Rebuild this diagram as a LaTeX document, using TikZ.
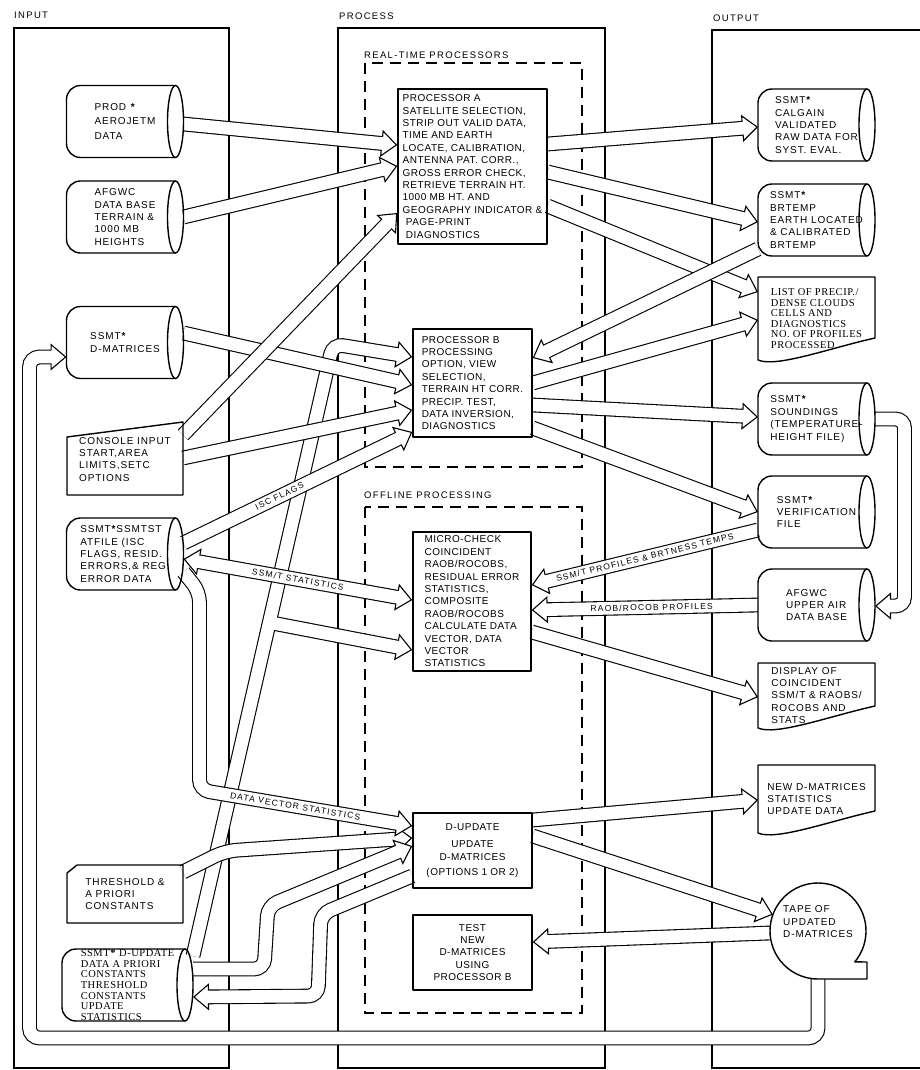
\documentclass[tikz,border=0pt]{standalone}
\usepackage{fontspec}
\setmainfont{Liberation Sans}[LetterSpace=5]
\newfontfamily\midfont{Liberation Sans}[LetterSpace=9]
\newfontfamily\widefont{Liberation Sans}[LetterSpace=14]
\newfontfamily\oldfont{Liberation Serif}[LetterSpace=5]
\usetikzlibrary{arrows.meta,calc}
\pgfdeclarelayer{frame}
\pgfdeclarelayer{flow}
\pgfsetlayers{frame,flow,main}
\newcommand{\procfont}{\fontsize{10}{12.4}\selectfont}
\newcommand{\iofont}{\midfont\fontsize{10}{12.4}\selectfont}
\newcommand{\serfont}{\oldfont\fontsize{10.5}{10.6}\selectfont}
\newcommand{\lblfont}{\widefont\fontsize{8.5}{9}\selectfont}
\newcommand{\headfont}{\widefont\fontsize{9.5}{10}\selectfont}
\newcommand{\starmk}{\textbf{*}}
\begin{document}
\begin{tikzpicture}[x=1pt,y=-1pt,line join=round,
  headtip/.tip={Triangle[length=16pt,width=27pt,fill=white,line width=1.1pt]},
  shapeline/.style={line width=1.4pt},
  frameline/.style={line width=1.5pt},
  dashline/.style={line width=1.3pt,dash pattern=on 11pt off 7pt},
  fatback/.style={draw,line cap=butt,line width=14.8pt,shorten >=15pt},
  fatfill/.style={draw=white,line cap=butt,line width=12.6pt,shorten >=13.5pt},
  fathead/.style={draw,line width=1.1pt,-headtip},
  fat/.style={fathead,preaction={fatback,arrows=-},postaction={fatfill,arrows=-}},
  fattwo/.style={draw,line width=1.1pt,headtip-headtip,
    preaction={fatback,shorten <=15pt,arrows=-},postaction={fatfill,shorten <=13.5pt,arrows=-}},
  lbl/.style={font=\lblfont,inner sep=0pt,sloped},
  head/.style={font=\headfont,inner sep=0pt,anchor=west},
  box/.style={draw,shapeline,rectangle,align=left,inner sep=3pt,font=\procfont},
  store/.style={rectangle,minimum width=117pt,minimum height=72pt,inner sep=2pt,outer sep=0pt,align=left,font=\iofont,
    append after command={\pgfextra{
      \draw[shapeline,rounded corners=14pt] ([xshift=-8pt]\tikzlastnode.north east) -- (\tikzlastnode.north west)
        -- (\tikzlastnode.south west) -- ([xshift=-8pt]\tikzlastnode.south east);
      \draw[shapeline] ([xshift=-8pt]\tikzlastnode.east) ellipse [x radius=8pt,y radius=36pt];}}},
  manual/.style={rectangle,minimum width=116pt,minimum height=73pt,outer sep=0pt,align=left,font=\iofont,
    append after command={\pgfextra{
      \draw[shapeline] ([yshift=-15pt]\tikzlastnode.north west) -- (\tikzlastnode.north east)
        -- (\tikzlastnode.south east) -- (\tikzlastnode.south west) -- cycle;}}},
  card/.style={rectangle,minimum width=116pt,minimum height=58pt,outer sep=0pt,align=left,font=\iofont,
    append after command={\pgfextra{
      \draw[shapeline] ([xshift=10pt]\tikzlastnode.north west) -- (\tikzlastnode.north east)
        -- (\tikzlastnode.south east) -- (\tikzlastnode.south west) -- ([yshift=-8pt]\tikzlastnode.north west) -- cycle;}}},
  doc/.style={rectangle,minimum width=117pt,minimum height=#1,inner sep=2pt,outer sep=0pt,align=left,font=\iofont,
    append after command={\pgfextra{
      \draw[shapeline] ([yshift=22pt]\tikzlastnode.south east) -- (\tikzlastnode.north east) -- (\tikzlastnode.north west)
        -- (\tikzlastnode.south west) .. controls +(18pt,-8pt) and +(-45pt,-10pt) .. ([yshift=22pt]\tikzlastnode.south east);}}},
  tapestyle/.style={circle,minimum size=96pt,inner sep=0pt,outer sep=0pt,align=left,font=\iofont,
    append after command={\pgfextra{
      \draw[shapeline] (\tikzlastnode.-40) arc[start angle=-40,end angle=270,radius=48pt] -- ++(49pt,0pt) -- ++(0pt,17pt) -- cycle;}}}]
\useasboundingbox (0,0) rectangle (919,1070);

\node[head] (inlbl) at (14,15) {INPUT};
\node[head] (proclbl) at (339,16) {PROCESS};
\node[head] (outlbl) at (713,18) {OUTPUT};
\node[head] (rtlbl) at (364,55) {REAL-TIME PROCESSORS};
\node[head] (offlbl) at (364,495) {OFFLINE PROCESSING};

\node[store] (prod) at (125,121.5) {PROD \starmk\\[2pt]AEROJETM\\[2pt]DATA};
\node[store] (afgwc) at (125,217) {AFGWC\\DATA BASE\\TERRAIN \&\\1000 MB\\HEIGHTS};
\node[store] (dmat) at (125,342.5) {SSMT\starmk\\D-MATRICES};
\node[manual] (console) at (125,458.5) {\\[-4pt]CONSOLE INPUT\\START,AREA\\LIMITS,SETC\\OPTIONS};
\node[store] (stat) at (125,554) {SSMT\starmk SSMTST\\ATFILE (ISC\\FLAGS, RESID.\\ERRORS,\& REG.\\ERROR DATA};
\node[card] (thresh) at (125,894) {THRESHOLD \&\\A PRIORI\\CONSTANTS};
\node[store,minimum width=131pt,inner sep=0pt,font=\serfont] (dupcyl) at (127.5,985)
  {SSMT\starmk{} D-UPDATE\\DATA A PRIORI\\CONSTANTS\\THRESHOLD\\CONSTANTS\\UPDATE\\STATISTICS};

\node[box,minimum width=149pt,minimum height=155pt] (procA) at (472.5,166.5)
  {PROCESSOR A\\SATELLITE SELECTION,\\STRIP OUT VALID DATA,\\TIME AND EARTH\\LOCATE, CALIBRATION,\\ANTENNA PAT. CORR.,\\GROSS ERROR CHECK,\\RETRIEVE TERRAIN HT.\\1000 MB HT. AND\\GEOGRAPHY INDICATOR \&\\\ PAGE-PRINT\\\ DIAGNOSTICS};
\node[box,minimum width=119pt,minimum height=108pt] (procB) at (472.5,383)
  {PROCESSOR B\\PROCESSING\\OPTION, VIEW\\SELECTION,\\TERRAIN HT CORR.\\PRECIP. TEST,\\DATA INVERSION,\\DIAGNOSTICS};
\node[box,minimum width=118pt,minimum height=139pt] (micro) at (472,601.5)
  {MICRO-CHECK\\COINCIDENT\\RAOB/ROCOBS,\\RESIDUAL ERROR\\STATISTICS,\\COMPOSITE\\RAOB/ROCOBS\\CALCULATE DATA\\VECTOR, DATA\\VECTOR\\STATISTICS};
\node[box,align=center,minimum width=119pt,minimum height=75pt] (dupd) at (472.5,850.5)
  {D-UPDATE\\[5pt]UPDATE\\D-MATRICES\\[3pt](OPTIONS 1 OR 2)};
\node[box,align=center,minimum width=119pt,minimum height=75pt] (test) at (472.5,952.5)
  {TEST\\NEW\\D-MATRICES\\USING\\PROCESSOR B};

\node[store] (calgain) at (816.5,125) {SSMT\starmk\\CALGAIN\\VALIDATED\\RAW DATA FOR\\SYST. EVAL.};
\node[store] (brtemp) at (816.5,220) {SSMT\starmk\\BRTEMP\\EARTH LOCATED\\\& CALIBRATED\\BRTEMP};
\node[doc=83pt,font=\serfont] (list) at (816.5,318.5) {LIST OF PRECIP./\\DENSE CLOUDS\\CELLS AND\\DIAGNOSTICS\\NO. OF PROFILES\\PROCESSED};
\node[store] (sound) at (816.5,419) {SSMT\starmk\\SOUNDINGS\\(TEMPERATURE-\\HEIGHT FILE)};
\node[store] (verif) at (816.5,512) {SSMT\starmk\\VERIFICATION\\FILE};
\node[store] (upper) at (816.5,605) {AFGWC\\UPPER AIR\\DATA BASE};
\node[doc=65pt] (disp) at (816.5,695.5) {DISPLAY OF\\COINCIDENT\\SSM/T \& RAOBS/\\ROCOBS AND\\STATS};
\node[doc=68pt] (newd) at (816.5,799) {NEW D-MATRICES\\STATISTICS\\UPDATE DATA};
\node[tapestyle] (tape) at (818,931) {TAPE OF\\UPDATED\\D-MATRICES\\[6pt]};

\begin{pgfonlayer}{frame}
\draw[frameline] (14,28) rectangle (229,1068);
\draw[frameline] (338,28) rectangle (605,1068);
\draw[frameline] (925,30) -- (712,30) -- (712,1068) -- (925,1068);
\draw[dashline] (365,63) rectangle (582,467);
\draw[dashline] (365,507) rectangle (582,1013);
\end{pgfonlayer}

\begin{pgfonlayer}{flow}
\coordinate (tk0) at (dupcyl.east |- 0,956);
\coordinate (tk1) at (333,344);
\coordinate (tkb) at ($(tk0)!0.545!(tk1)$);
\draw[fatback,rounded corners=10pt] (tk0) -- (tk1) -- (procB.west |- 0,357);
\draw[fatback] (tkb) -- (micro.west |- 0,650);
\draw[fathead,rounded corners=10pt] (tk0) -- (tk1) -- (procB.west |- 0,357);
\draw[fathead] (tkb) -- (micro.west |- 0,650);
\draw[fatfill,rounded corners=10pt] (tk0) -- (tk1) -- (procB.west |- 0,357);
\draw[fatfill] (tkb) -- (micro.west |- 0,650);

\draw[fat] (prod.east |- 0,124) -- (procA.west |- 0,145);
\draw[fat] (afgwc.east |- 0,217) -- (procA.west |- 0,166);
\draw[fat] (dmat.east |- 0,333) -- (procB.west |- 0,385);
\draw[fat] (console.east |- 0,435) -- (procA.west |- 0,213);
\draw[fat] (console.east |- 0,458) -- (procB.west |- 0,410);
\draw[fat] (stat.east |- 0,543) -- node[lbl,pos=0.42] {ISC FLAGS} (procB.west |- 0,432);
\draw[fattwo] (stat.east |- 0,559) -- node[lbl,pos=0.5] {SSM/T STATISTICS} (micro.west |- 0,600);
\draw[fat,rounded corners=12pt] (thresh.east |- 0,872) -- (225,851) -- (dupd.west |- 0,838);
\draw[fat,rounded corners=10pt] (dupcyl.east |- 0,969) -- (264,969) -- (268,906) -- (dupd.west |- 0,846);
\draw[fat,rounded corners=10pt] (dupd.west |- 0,876) -- (321,914) -- (318,996) -- (dupcyl.east |- 0,997);
\draw[fat,rounded corners=10pt] (stat.east |- 0,572) -- (199.5,592) -- (199.5,790)
  -- node[lbl,pos=0.45] {DATA VECTOR STATISTICS} (dupd.west |- 0,826);

\draw[fat] (procA.east |- 0,144) -- (calgain.west |- 0,127);
\draw[fat] (procA.east |- 0,172) -- (brtemp.west |- 0,222);
\draw[fat] (procA.east |- 0,206) -- (list.west |- 0,292);
\draw[fat] (brtemp.west |- 0,249) -- (procB.east |- 0,358);
\draw[fat] (procB.east |- 0,383) -- (list.west |- 0,320);
\draw[fat] (procB.east |- 0,405) -- (sound.west |- 0,417);
\draw[fat] (procB.east |- 0,428) -- (verif.west |- 0,512);
\draw[fat,rounded corners=9pt] (sound.east) -- (904.5,419) -- (904.5,606) -- (upper.east |- 0,606);
\draw[fat] (verif.west |- 0,530) -- node[lbl,pos=0.5] {SSM/T PROFILES \& BRTNESS TEMPS} (micro.east |- 0,585);
\draw[fat] (upper.west |- 0,605) -- node[lbl,pos=0.47] {RAOB/ROCOB PROFILES} (micro.east |- 0,610);
\draw[fat] (micro.east |- 0,632) -- (disp.west |- 0,697);
\draw[fat] (dupd.east |- 0,820) -- (newd.west |- 0,800);
\draw[fat] (dupd.east |- 0,836) -- (tape.160);
\draw[fat] (tape.west |- 0,933) -- (test.east |- 0,942);
\draw[fat,rounded corners=10pt] (tape.south) -- (818,1038) -- (29.5,1038) -- (29.5,357) -- (dmat.west |- 0,357);
\end{pgfonlayer}
\end{tikzpicture}
\end{document}
